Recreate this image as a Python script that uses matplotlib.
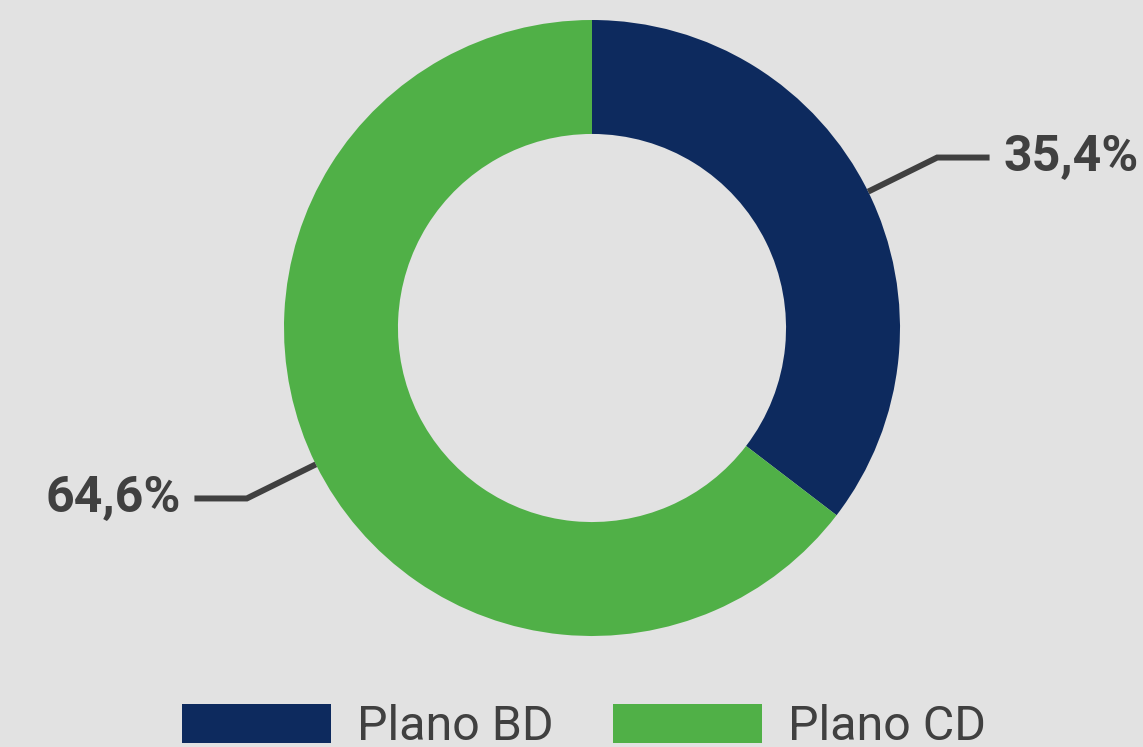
import numpy as np
import matplotlib.pyplot as plt
from matplotlib.patches import Patch

labels = ['Plano BD', 'Plano CD']
values = [35.4, 64.6]
pct_labels = ['35,4%', '64,6%']
colors = ['#0d2a5e', '#50b047']

bg = '#e2e2e2'
dark = '#404040'

fig = plt.figure(figsize=(11.43, 7.47), dpi=100, facecolor=bg)
ax = fig.add_axes([0, 0, 1, 1])
ax.set_facecolor(bg)

wedges, _ = ax.pie(values, colors=colors, startangle=90, counterclock=False,
                   radius=1, wedgeprops=dict(width=0.37, linewidth=0))

# put centre at (592, 328) px with radius 308 px
r_px = 308
ax.set_xlim(-592 / r_px, (1143 - 592) / r_px)
ax.set_ylim(-(747 - 328) / r_px, 328 / r_px)
ax.set_aspect('auto')
ax.axis('off')

for w, txt in zip(wedges, pct_labels):
    ang = np.deg2rad((w.theta1 + w.theta2) / 2)
    c, s = np.cos(ang), np.sin(ang)
    side = 1 if c > 0 else -1
    ex, ey = 1.25 * c, 1.25 * s
    hx = ex + side * 0.17
    ax.plot([c, ex, hx], [s, ey, ey], color=dark, lw=4.3, solid_capstyle='butt',
            solid_joinstyle='miter')
    ax.text(hx + side * 0.045, ey, txt, ha='left' if side > 0 else 'right',
            va='center', fontsize=36, fontweight='bold', family='Roboto', color=dark)

handles = [Patch(facecolor=c, edgecolor='none') for c in colors]
fig.legend(handles, labels, loc='lower center', bbox_to_anchor=(584 / 1143, -0.037),
           ncol=2, frameon=False, handlelength=3.08, handleheight=0.86,
           handletextpad=0.55, columnspacing=1.22, borderpad=0,
           prop={'family': 'Roboto', 'size': 34.8}, labelcolor=dark)

fig.savefig('out.png', dpi=100, facecolor=bg)
